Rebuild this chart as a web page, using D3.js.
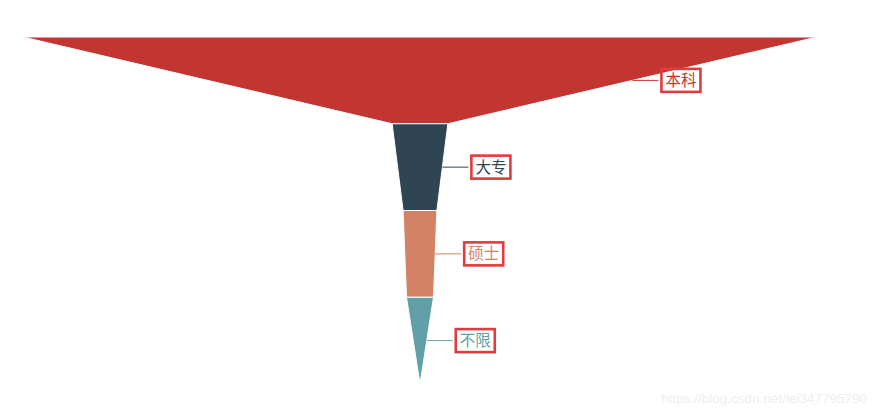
<!DOCTYPE html>
<html>
<head>
<meta charset="utf-8">
<script src="https://cdn.jsdelivr.net/npm/d3@7"></script>
<style>
  html, body { margin: 0; padding: 0; background: #fff; }
  svg { display: block; }
</style>
</head>
<body>
<script>
// funnel data
const categories = ["本科", "大专", "硕士", "不限"];
const values = [470, 33, 20, 16];
const colors = ["#c23531", "#2f4554", "#d48265", "#61a0a8"];

let width = 877, height = 418;
let cx = 420; // centre line of the funnel

let svg = d3.select("body").append("svg")
    .attr("width", width)
    .attr("height", height)
    .attr("font-family", "'Noto Sans CJK SC', 'Noto Sans', sans-serif");

// width of a slice edge from its value
let w = d3.scaleLinear()
    .domain([0, d3.max(values)])
    .range([0, 794]);

// one band per category, top to bottom
let y = d3.scaleBand()
    .domain(categories)
    .range([37, 384])
    .padding(0);

// each slice goes from its own value (top) down to the next one (bottom), last one to 0
let slices = categories.map((c, i) => ({
    name: c,
    top: values[i],
    bottom: i < values.length - 1 ? values[i + 1] : 0,
    color: colors[i]
}));

let g = svg.append("g");

g.selectAll("path")
    .data(slices)
    .join("path")
    .attr("d", d => {
        let y0 = y(d.name), y1 = y0 + y.bandwidth();
        let a = w(d.top) / 2, b = w(d.bottom) / 2;
        return `M${cx - a},${y0}L${cx + a},${y0}L${cx + b},${y1}L${cx - b},${y1}Z`;
    })
    .attr("fill", d => d.color)
    .attr("stroke", "#fff")
    .attr("stroke-width", 1);

// labels on the right, with a short leader line
let lab = svg.append("g")
    .selectAll("g")
    .data(slices)
    .join("g")
    .attr("transform", d => {
        let mx = cx + (w(d.top) + w(d.bottom)) / 4;
        let my = y(d.name) + y.bandwidth() / 2;
        return `translate(${mx},${my})`;
    });

lab.append("line")
    .attr("x1", 0)
    .attr("x2", 26)
    .attr("stroke", d => d.color)
    .attr("stroke-width", 1);

lab.append("text")
    .attr("x", 33)
    .attr("dy", "0.36em")
    .attr("font-size", 15.5)
    .attr("fill", d => d.color)
    .text(d => d.name);

// red boxes drawn round each label in the screenshot
lab.each(function() {
    let t = d3.select(this).select("text").node().getBBox();
    d3.select(this).append("rect")
        .attr("x", t.x - 4)
        .attr("y", -11.5)
        .attr("width", t.width + 8)
        .attr("height", 23)
        .attr("fill", "none")
        .attr("stroke", "#e23b3e")
        .attr("stroke-width", 2.6);
});

// faint watermark
svg.append("text")
    .attr("x", 867)
    .attr("y", 403)
    .attr("text-anchor", "end")
    .attr("font-family", "Arial, 'Liberation Sans', sans-serif")
    .attr("font-size", 13.5)
    .attr("fill", "#eeeeee")
    .text("https://blog.csdn.net/lei347795790");
</script>
</body>
</html>
